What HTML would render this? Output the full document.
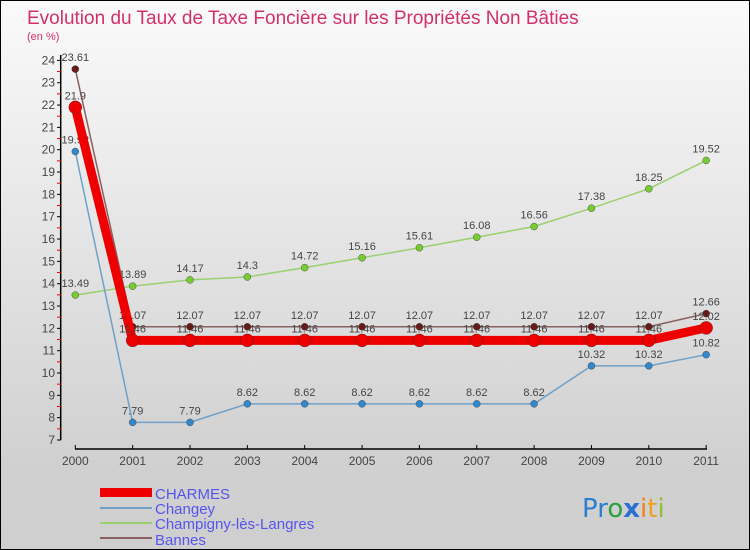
<!DOCTYPE html>
<html><head><meta charset="utf-8"><style>
body{margin:0;width:750px;height:550px;overflow:hidden;font-family:"Liberation Sans",sans-serif;}
#wrap{position:relative;width:748px;height:548px;border:1px solid #000;background:linear-gradient(#fafafa,#d0d0d0 85%,#cfcfcf);}
</style></head><body>
<div id="wrap">
<svg id="chart" width="750" height="550" style="position:absolute;left:-1px;top:-1px">
<text x="27" y="24" font-size="19" fill="#d3306b">Evolution du Taux de Taxe Foncière sur les Propriétés Non Bâties</text>
<text x="27" y="40" font-size="11" fill="#d3306b">(en %)</text>
<g id="axes"></g><g id="series"></g>
<g>
<rect x="100" y="488" width="52" height="9" fill="#ee0000"/>
<text x="155" y="499" font-size="15" fill="#5555ee">CHARMES</text>
<rect x="100" y="507" width="52" height="2" fill="#6fa0c8"/>
<text x="155" y="514" font-size="15" fill="#5555ee">Changey</text>
<rect x="100" y="522" width="52" height="2" fill="#99d070"/>
<text x="155" y="529" font-size="15" fill="#5555ee">Champigny-lès-Langres</text>
<rect x="100" y="537" width="52" height="2" fill="#8a6060"/>
<text x="155" y="545" font-size="15" fill="#5555ee">Bannes</text>
</g>
<g font-size="26" font-family="'DejaVu Sans',sans-serif">
<text x="582" y="517"><tspan fill="#2a7fd0">Pr</tspan><tspan fill="#2aa040">o</tspan><tspan fill="#2a70d0" font-weight="bold">x</tspan><tspan fill="#f08020">i</tspan><tspan fill="#f0a020">t</tspan><tspan fill="#90c030">i</tspan></text>
</g>
</svg>
</div>
<script>
const years=[2000,2001,2002,2003,2004,2005,2006,2007,2008,2009,2010,2011];
const charmes=[21.9,11.46,11.46,11.46,11.46,11.46,11.46,11.46,11.46,11.46,11.46,12.02];
const changey=[19.92,7.79,7.79,8.62,8.62,8.62,8.62,8.62,8.62,10.32,10.32,10.82];
const champigny=[13.49,13.89,14.17,14.3,14.72,15.16,15.61,16.08,16.56,17.38,18.25,19.52];
const bannes=[23.61,12.07,12.07,12.07,12.07,12.07,12.07,12.07,12.07,12.07,12.07,12.66];
const yTicks=[7,8,9,10,11,12,13,14,15,16,17,18,19,20,21,22,23,24];
const NS="http://www.w3.org/2000/svg";
const X=i=>75.3+i*57.35, Y=v=>440-(v-7)*22.33;
function mk(t,a,p){const e=document.createElementNS(NS,t);for(const k in a)e.setAttribute(k,a[k]);p.appendChild(e);return e;}
const ax=document.getElementById('axes');
let l=mk('line',{x1:60.7,y1:55,x2:60.7,y2:440,stroke:'#000','stroke-width':1.5},ax);


l=mk('line',{x1:75,y1:449,x2:707,y2:449,stroke:'#000','stroke-width':1.5},ax);


yTicks.forEach(v=>{
 mk('line',{x1:57,y1:Y(v),x2:61,y2:Y(v),stroke:'#000'},ax);
 if(v<24)mk('line',{x1:57,y1:Y(v+0.5),x2:61,y2:Y(v+0.5),stroke:'#e00'},ax);
 const t=mk('text',{x:55,y:Y(v)+4,'font-size':12,'text-anchor':'end',fill:'#444'},ax);
 t.textContent=v;
 
 
});
years.forEach((yr,i)=>{
 mk('line',{x1:X(i),y1:445,x2:X(i),y2:449,stroke:'#000'},ax);
 const t=mk('text',{x:X(i),y:465,'font-size':12,'text-anchor':'middle',fill:'#444'},ax);
 t.textContent=yr;
 
 
});
const sg=document.getElementById('series');
function draw(vals,color,w,r,name,dot,lab){
 const g=mk('g',{},sg);
 
 
 const p=mk('polyline',{points:vals.map((v,i)=>X(i)+','+Y(v)).join(' '),fill:'none',stroke:color,'stroke-width':w,'stroke-linejoin':'round'},g);
 
 
 vals.forEach((v,i)=>{
  const c=mk('circle',{cx:X(i),cy:Y(v),r:r,fill:dot,stroke:'#333','stroke-width':0.4},g);
  
  
  const t=mk('text',{x:X(i),y:Y(v)-8,'font-size':11,'text-anchor':'middle',fill:'#444'},g);
  t.textContent=v;
  
  
 });
}
draw(champigny,'#99d070',1.5,3.5,'champigny','#77cc33');
draw(changey,'#6fa0c8',1.5,3.5,'changey','#3388cc');
draw(bannes,'#8a6060',1.5,3.5,'bannes','#661a1a');
draw(charmes,'#ee0000',9,6.5,'charmes','#ee0000');
</script>
</body></html>
